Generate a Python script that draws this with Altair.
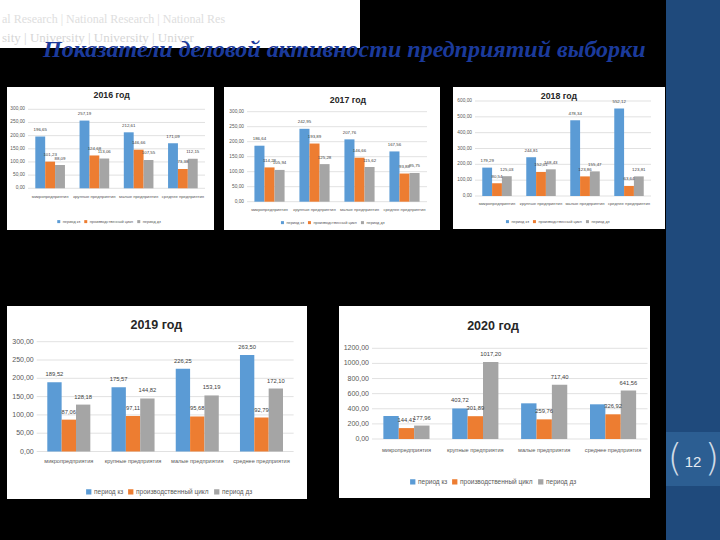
import altair as alt
import pandas as pd

# ---------------- data ----------------
categories = ["микропредприятия", "крупные предприятия", "малые предприятия", "среднее предприятия"]
series = ["период кз", "производственный цикл", "период дз"]
colors = ["#5B9BD5", "#ED7D31", "#A5A5A5"]
years = ["2016 год", "2017 год", "2018 год", "2019 год", "2020 год"]

kz_2016 = [196.65, 257.19, 212.61, 171.09]
pc_2016 = [101.23, 124.68, 146.66, 73.38]
dz_2016 = [88.09, 113.06, 107.55, 112.15]

kz_2017 = [186.64, 242.95, 207.76, 167.56]
pc_2017 = [114.28, 193.89, 146.66, 93.88]
dz_2017 = [105.94, 125.28, 115.62, 95.75]

kz_2018 = [179.29, 244.81, 478.34, 552.12]
pc_2018 = [80.54, 152.01, 123.86, 63.64]
dz_2018 = [125.03, 168.43, 155.47, 123.81]

kz_2019 = [189.52, 175.57, 226.25, 263.50]
pc_2019 = [87.06, 97.11, 95.68, 92.79]
dz_2019 = [128.18, 144.82, 153.19, 172.10]

kz_2020 = [304.0, 403.72, 472.0, 459.0]
pc_2020 = [144.41, 301.89, 259.76, 326.92]
dz_2020 = [177.96, 1017.20, 717.40, 641.56]
kz_2020_labelled = [False, True, False, False]

ticks_300 = [0, 50, 100, 150, 200, 250, 300]
ticks_600 = [0, 100, 200, 300, 400, 500, 600]
ticks_1200 = [0, 200, 400, 600, 800, 1000, 1200]

slide_title = "Показатели деловой активности предприятий выборки"
page_number = "12"
watermark_1 = "al  Research  |  National Research  |  National Res"
watermark_2 = "sity  |  University  |  University  |  Univer"

# ---------------- styling ----------------
FONT = "Liberation Sans, Arial, sans-serif"
TEXT = "#595959"
GRID = "#D9D9D9"
one = pd.DataFrame({"k": [0]})


def fmt(v):
    return f"{v:.2f}".replace(".", ",")


def panel(year, kz, pc, dz, ticks, box, plot, title_xy, title_fs, cat_y,
          legend_xy, fs, kz_show=None):
    bx0, by0, bx1, by1 = box
    px0, px1, py0, py1 = plot
    tick_fs, val_fs, cat_fs, leg_fs, val_dy, sym, colpad = fs
    if kz_show is None:
        kz_show = [True] * len(categories)

    rows = []
    for i, c in enumerate(categories):
        for s, vals in zip(series, (kz, pc, dz)):
            show = kz_show[i] if s == series[0] else True
            rows.append({"cat": c, "series": s, "value": vals[i],
                         "label": fmt(vals[i]) if show else ""})
    df = pd.DataFrame(rows)
    tdf = pd.DataFrame({"tick": ticks, "tlabel": [fmt(t) for t in ticks]})
    cdf = pd.DataFrame({"cat": categories})
    ydf = pd.DataFrame({"year": [year]})

    xs = alt.Scale(domain=categories, range=[px0, px1], paddingInner=0.33, paddingOuter=0.165)
    ys = alt.Scale(domain=[0, ticks[-1]], range=[py0, py1], nice=False, zero=True)
    cs = alt.Scale(domain=series, range=colors)
    os_ = alt.Scale(domain=series, paddingInner=0, paddingOuter=0)

    bg = alt.Chart(one).mark_rect(color="white").encode(
        x=alt.value(bx0), x2=alt.value(bx1), y=alt.value(by0), y2=alt.value(by1))

    grid = alt.Chart(tdf).mark_rule(color=GRID, strokeWidth=0.8).encode(
        x=alt.value(px0), x2=alt.value(px1),
        y=alt.Y("tick:Q", scale=ys, axis=None))

    tlab = alt.Chart(tdf).mark_text(align="right", baseline="middle", font=FONT,
                                    fontSize=tick_fs, color=TEXT).encode(
        x=alt.value(px0 - 3),
        y=alt.Y("tick:Q", scale=ys, axis=None),
        text="tlabel:N")

    bars = alt.Chart(df).mark_bar().encode(
        x=alt.X("cat:N", scale=xs, axis=None),
        xOffset=alt.XOffset("series:N", scale=os_),
        y=alt.Y("value:Q", scale=ys, axis=None),
        color=alt.Color("series:N", scale=cs, legend=alt.Legend(
            orient="none", legendX=legend_xy[0], legendY=legend_xy[1],
            direction="horizontal", title=None, symbolType="square",
            symbolSize=sym, symbolStrokeWidth=0, labelFont=FONT,
            labelFontSize=leg_fs, labelColor=TEXT, columnPadding=colpad,
            labelOffset=2, padding=0)))

    vals = alt.Chart(df).mark_text(baseline="middle", font=FONT, fontSize=val_fs,
                                   color="#404040", dy=val_dy).encode(
        x=alt.X("cat:N", scale=xs, axis=None),
        xOffset=alt.XOffset("series:N", scale=os_),
        y=alt.Y("value:Q", scale=ys, axis=None),
        text="label:N")

    cats = alt.Chart(cdf).mark_text(baseline="middle", font=FONT, fontSize=cat_fs,
                                    color=TEXT).encode(
        x=alt.X("cat:N", scale=xs, axis=None),
        y=alt.value(cat_y),
        text="cat:N")

    ttl = alt.Chart(ydf).mark_text(baseline="middle", font=FONT, fontSize=title_fs,
                                   fontWeight="bold", color="#262626").encode(
        x=alt.value(title_xy[0]), y=alt.value(title_xy[1]), text="year:N")

    return alt.layer(bg, grid, tlab, bars, vals, cats, ttl)


small_fs = (4.8, 4.4, 4.2, 3.9, -6.5, 9, 3)
big_fs = (7.0, 5.8, 5.6, 6.5, -8, 28, 4)

p2016 = panel(years[0], kz_2016, pc_2016, dz_2016, ticks_300,
              (7, 87, 214, 230), (28, 205, 188.3, 109.3), (111.7, 94.5), 8.8, 196.7,
              (56.8, 219.6), small_fs)
p2017 = panel(years[1], kz_2017, pc_2017, dz_2017, ticks_300,
              (224, 87, 440, 230), (247, 427, 201.7, 111.7), (348, 100), 8.8, 210,
              (280.5, 220.6), small_fs)
p2018 = panel(years[2], kz_2018, pc_2018, dz_2018, ticks_600,
              (453, 87, 665, 229), (475, 651, 196, 101), (559, 96), 8.8, 204.3,
              (505.5, 219.6), small_fs)
p2019 = panel(years[3], kz_2019, pc_2019, dz_2019, ticks_300,
              (7, 306, 307, 499), (36.7, 293.6, 451.5, 341.7), (156.3, 325), 12.5, 461,
              (85.5, 488.5), big_fs)
p2020 = panel(years[4], kz_2020, pc_2020, dz_2020, ticks_1200,
              (339, 306, 650, 498), (372, 647.5, 439, 348.3), (493, 326), 12.5, 450,
              (409.5, 478.5), big_fs, kz_show=kz_2020_labelled)

# ---------------- slide decoration ----------------
logo_bg = alt.Chart(one).mark_rect(color="white").encode(
    x=alt.value(0), x2=alt.value(360), y=alt.value(0), y2=alt.value(48))
logo_t1 = alt.Chart(one).mark_text(align="left", baseline="alphabetic", font="Liberation Serif",
                                   fontSize=12, color="#DEDEDE").encode(
    x=alt.value(2), y=alt.value(23), text=alt.value(watermark_1))
logo_t2 = alt.Chart(one).mark_text(align="left", baseline="alphabetic", font="Liberation Serif",
                                   fontSize=13, color="#D6D6D6").encode(
    x=alt.value(2), y=alt.value(42), text=alt.value(watermark_2))

title = alt.Chart(one).mark_text(align="left", baseline="alphabetic", font="Liberation Serif",
                                 fontStyle="italic", fontWeight="bold", fontSize=24,
                                 color="#1B3A9B").encode(
    x=alt.value(43), y=alt.value(57), text=alt.value(slide_title))

sidebar = alt.Chart(one).mark_rect(color="#1F4A7C").encode(
    x=alt.value(666), x2=alt.value(720), y=alt.value(0), y2=alt.value(540))
pagebox = alt.Chart(one).mark_rect(color="#2C5E92").encode(
    x=alt.value(666), x2=alt.value(720), y=alt.value(432), y2=alt.value(486))
pnum = alt.Chart(one).mark_text(baseline="middle", font="Liberation Sans", fontSize=15,
                                color="#E4EAF1").encode(
    x=alt.value(693), y=alt.value(462), text=alt.value(page_number))
lbr = alt.Chart(one).mark_text(baseline="middle", font="DejaVu Sans", fontWeight=200,
                               fontSize=38, color="#D0DBE6").encode(
    x=alt.value(675), y=alt.value(459), text=alt.value("("))
rbr = alt.Chart(one).mark_text(baseline="middle", font="DejaVu Sans", fontWeight=200,
                               fontSize=38, color="#D0DBE6").encode(
    x=alt.value(712), y=alt.value(459), text=alt.value(")"))

chart = alt.layer(
    logo_bg, logo_t1, logo_t2, title, sidebar, pagebox, pnum, lbr, rbr,
    p2016, p2017, p2018, p2019, p2020
).resolve_scale(
    x="independent", y="independent", color="independent", xOffset="independent"
).resolve_legend(color="independent").properties(
    width=720, height=540, padding=0, autosize="none", background="black"
).configure_view(strokeWidth=0)

chart.save("out.html", embed_options={"renderer": "svg", "actions": False})
